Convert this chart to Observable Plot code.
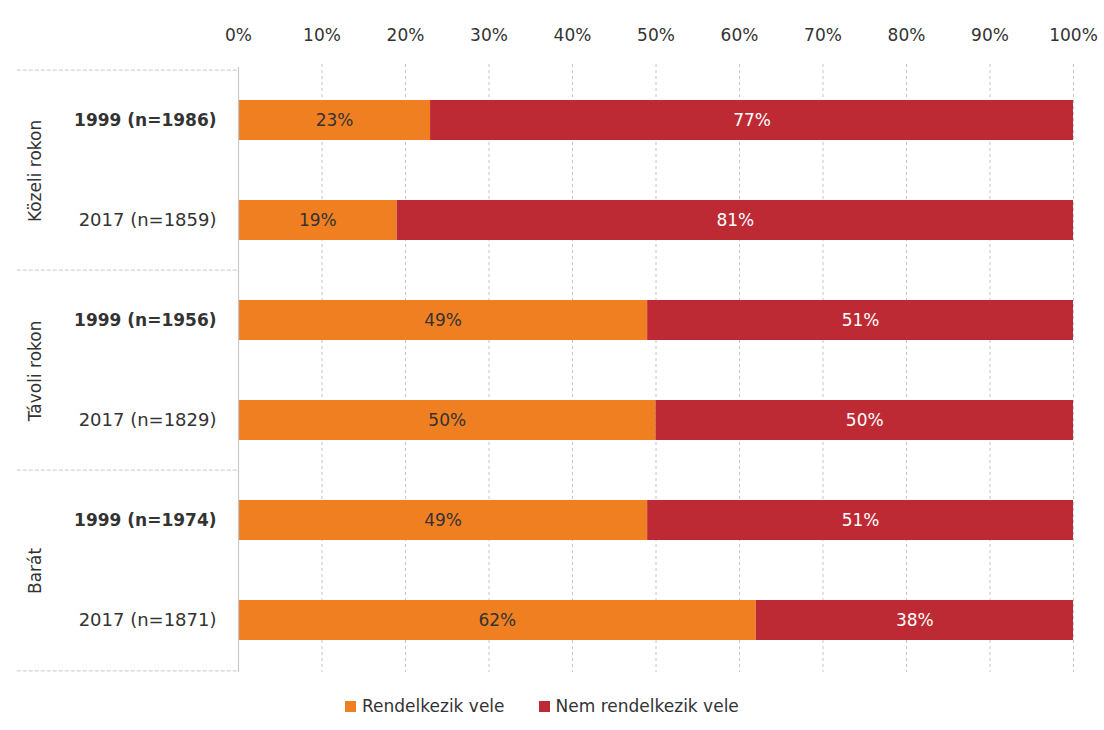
<!DOCTYPE html>
<html><head><meta charset="utf-8">
<script src="https://cdn.jsdelivr.net/npm/d3@7"></script>
<script src="https://cdn.jsdelivr.net/npm/@observablehq/plot@0.6"></script>
<style>
body{margin:0;background:#fff;font-family:"DejaVu Sans",sans-serif;color:#333}
#legend{display:flex;gap:34px;margin-left:345px;margin-top:16px;font-size:17px;color:#333}
#legend span.sw{display:inline-block;width:11px;height:11px;margin-right:6px;vertical-align:middle;position:relative;top:-1px}
</style>
</head><body>
<div id="chart"></div>
<div id="legend"></div>
<script>
const groupNames = ["Közeli rokon","Távoli rokon","Barát"];
const rowGroups = ["Közeli rokon","Közeli rokon","Távoli rokon","Távoli rokon","Barát","Barát"];
const rowLabels = ["1999 (n=1986)","2017 (n=1859)","1999 (n=1956)","2017 (n=1829)","1999 (n=1974)","2017 (n=1871)"];
const hasIt = [23,19,49,50,49,62];
const hasNot = [77,81,51,50,51,38];
const seriesNames = ["Rendelkezik vele","Nem rendelkezik vele"];
const seriesColors = ["#f07f22","#be2a34"];
const xTicks = [0,10,20,30,40,50,60,70,80,90,100];

const data = [];
rowLabels.forEach((r,i)=>{
  data.push({row:r, series:seriesNames[0], value:hasIt[i]});
  data.push({row:r, series:seriesNames[1], value:hasNot[i]});
});
const groupFirst = groupNames.map(g => rowLabels[rowGroups.indexOf(g)]);
const lastRow = [rowLabels[rowLabels.length-1]];
const halfStep = 50.4;

const chart = Plot.plot({
  width: 1104,
  height: 680,
  marginTop: 67,
  marginBottom: 8,
  marginLeft: 238,
  marginRight: 31,
  style: {fontFamily: "DejaVu Sans, sans-serif", fontSize: "17px", color: "#333", background: "transparent"},
  x: {domain: [0,100], axis: null},
  y: {domain: rowLabels, paddingInner: 0.6, paddingOuter: 0.3, axis: null},
  color: {domain: seriesNames, range: seriesColors},
  marks: [
    Plot.ruleX(xTicks.filter(d=>d>0), {stroke:"#c4c4c4", strokeDasharray:"3,3", strokeWidth:1, insetTop: -3}),
    Plot.barX(data, Plot.stackX({x:"value", y:"row", fill:"series", order: seriesNames})),
    Plot.text(data, Plot.stackX({x:"value", y:"row", z:"series", order: seriesNames,
      text: d => d.value + "%", fill: d => d.series === seriesNames[0] ? "#333333" : "#ffffff", fontSize: 17})),
    Plot.axisX({anchor:"top", ticks: xTicks, tickSize: 0, tickPadding: 27, tickFormat: d => d + "%", fontSize: 17, color:"#333", label: null}),
    Plot.ruleX([0], {stroke:"#c8c8c8", strokeWidth:1.2}),
    Plot.ruleY(groupFirst, {y: d=>d, x1: -26.5, x2: 0, dy: -halfStep, stroke:"#c8c8c8", strokeDasharray:"4,2", clip:false}),
    Plot.ruleY(lastRow, {y: d=>d, x1: -26.5, x2: 0, dy: halfStep, stroke:"#c8c8c8", strokeDasharray:"4,2", clip:false}),
    Plot.text(rowLabels.filter(r=>r.startsWith("1999")), {x: 0, y: d=>d, text: d=>d, dx: -22, textAnchor: "end", fontSize: 17, fontWeight: "bold", fill:"#333"}),
    Plot.text(rowLabels.filter(r=>!r.startsWith("1999")), {x: 0, y: d=>d, text: d=>d, dx: -22, textAnchor: "end", fontSize: 18, fill:"#333"}),
    Plot.text(groupNames, {x: 0, y: (d,i)=>groupFirst[i], text: d=>d, dx: -203, dy: halfStep, rotate: -90, fontSize: 17, fill:"#333"})
  ]
});
document.getElementById("chart").appendChild(chart);

const legend = document.getElementById("legend");
seriesNames.forEach((s,i)=>{
  const item = document.createElement("div");
  item.innerHTML = `<span class="sw" style="background:${seriesColors[i]}"></span>${s}`;
  legend.appendChild(item);
});
</script>
</body></html>
